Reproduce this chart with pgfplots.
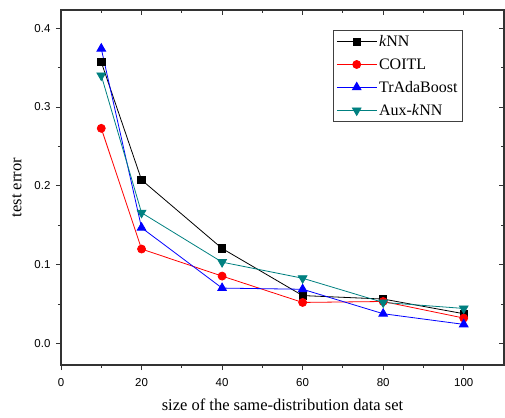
\documentclass[border=0pt]{standalone}
\usepackage{fontspec}
\setmainfont{Liberation Serif}
\newfontfamily\arial{Liberation Sans}
\usepackage{pgfplots}
\pgfplotsset{compat=1.18}
\definecolor{auxteal}{RGB}{0,128,128}
\begin{document}
\begin{tikzpicture}
\begin{axis}[
  scale only axis, width=443pt, height=355pt,
  xmin=0, xmax=110, ymin=-0.027, ymax=0.423,
  xtick={0,20,...,100}, minor x tick num=1,
  ytick={0,0.1,...,0.4}, minor y tick num=1,
  tick pos=left, tick align=outside,
  major tick length=5pt, minor tick length=3pt,
  axis line style={line width=1.3pt, black!80},
  tick style={line width=0.9pt, black!80},
  /pgf/number format/assume math mode=true,
  yticklabel style={/pgf/number format/fixed, /pgf/number format/fixed zerofill, /pgf/number format/precision=1, xshift=-2pt},
  xticklabel style={yshift=-5pt},
  tick label style={font=\arial\fontsize{11.5}{13}\selectfont},
  xlabel={size of the same-distribution data set},
  ylabel={test error},
  label style={font=\fontsize{16.5}{18}\selectfont},
  xlabel style={yshift=-5pt},
  ylabel style={yshift=6pt},
  legend style={at={(0.9075,0.944)}, anchor=north east, draw=black!75, line width=0.9pt,
    font=\fontsize{16}{18}\selectfont, row sep=6.5pt, inner sep=3pt, cells={anchor=west}},
  legend image code/.code={\draw[mark repeat=2,mark phase=2] plot coordinates {(0cm,0cm) (0.7cm,0cm) (1.4cm,0cm)};},
  every axis plot/.append style={line width=0.8pt},
]
\coordinate (bl) at (rel axis cs:0,0);
\coordinate (tr) at (rel axis cs:1,1);
\addplot[black, mark=square*, mark size=3.7pt] coordinates {(10,0.357) (20,0.2076) (40,0.1207) (60,0.061) (80,0.0566) (100,0.038)};
\addlegendentry{\textit{k}NN}
\addplot[red, mark=*, mark size=4pt] coordinates {(10,0.273) (20,0.120) (40,0.0857) (60,0.0523) (80,0.0535) (100,0.0325)};
\addlegendentry{COITL}
\addplot[blue, mark=triangle*, mark size=5pt] coordinates {(10,0.374) (20,0.147) (40,0.0705) (60,0.069) (80,0.038) (100,0.0245)};
\addlegendentry{TrAdaBoost}
\addplot[auxteal, mark=triangle*, mark size=5pt, mark options={rotate=180}] coordinates {(10,0.340) (20,0.166) (40,0.1034) (60,0.083) (80,0.0523) (100,0.0447)};
\addlegendentry{Aux-\textit{k}NN}
\end{axis}
\begin{axis}[
  scale only axis, width=443pt, height=355pt,
  xmin=0, xmax=110, ymin=-0.027, ymax=0.423,
  xtick={0,20,...,100}, minor x tick num=1,
  ytick={0,0.1,...,0.4}, minor y tick num=1,
  tick pos=right, tick align=inside,
  major tick length=5pt, minor tick length=3pt,
  xticklabels={}, yticklabels={},
  axis line style={draw=none},
  tick style={line width=0.9pt, black!80},
]
\end{axis}
\pgfresetboundingbox
\path ([shift={(-61pt,-52pt)}]bl) rectangle ([shift={(1pt,10pt)}]tr);
\end{tikzpicture}
\end{document}
